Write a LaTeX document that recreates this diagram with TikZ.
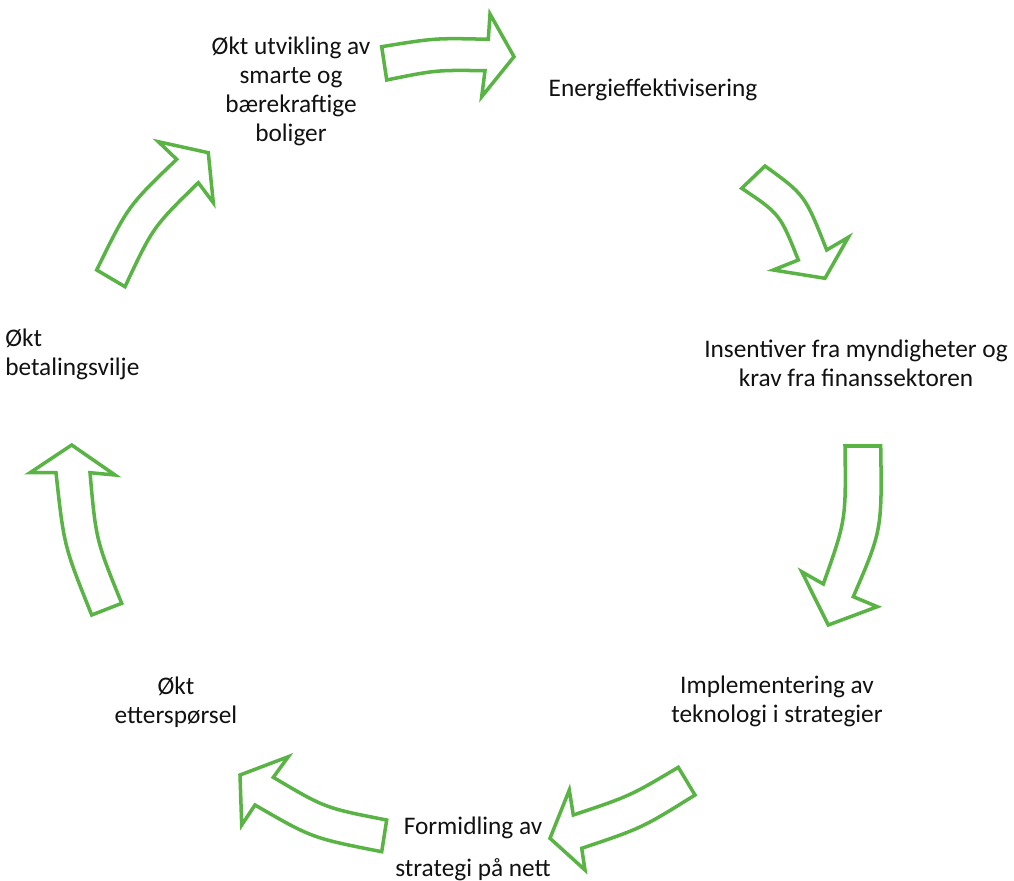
\documentclass[tikz,border=0pt]{standalone}
\usepackage{fontspec}
\setmainfont{Carlito}
\usepackage{tikz}
\usetikzlibrary{positioning}
\definecolor{leaf}{HTML}{5AB445}
\definecolor{ink}{HTML}{111111}

\begin{document}
\begin{tikzpicture}[x=0.025cm,y=-0.025cm,
  stage/.style={align=center,inner sep=0pt,text=ink,font=\fontsize{18}{20.6}\selectfont},
  blockarrow/.style={draw=leaf,line width=2.5pt,line join=miter,fill=white}
]
  \useasboundingbox (0,0) rectangle (1014,881);
  % stages of the cycle
  \node[stage] (utvikling) at (291,91) {Økt utvikling av\\smarte og\\bærekraftige\\boliger};
  \node[stage] (energi) at (653,90) {Energieffektivisering};
  \node[stage] (insentiver) at (856,363) {Insentiver fra myndigheter og\\krav fra finanssektoren};
  \node[stage] (implementering) at (777,701) {Implementering av\\teknologi i strategier};
  \node[stage] (formidling) at (473,849) {Formidling av\\[9pt]strategi på nett};
  \node[stage] (ettersporsel) at (176,702) {Økt\\etterspørsel};
  \node[stage,align=left,anchor=west] (betaling) at (5,354) {Økt\\betalingsvilje};
  % curved block arrows between the stages
  \draw[blockarrow] (381.7,46.7) .. controls (435,38) .. (488.3,39.3) -- (490,14) -- (514,56.7)
    -- (481.7,96.7) -- (485,70.7) .. controls (436,70) .. (386.7,80) -- cycle;
  \draw[blockarrow] (765,166) .. controls (805,195) .. (826.7,250) -- (848.3,237.3) -- (825,278.3)
    -- (773.3,270) -- (798.3,260) .. controls (780,214) .. (741.7,188.3) -- cycle;
  \draw[blockarrow] (880.7,446) .. controls (882,530) .. (853.3,596.7) -- (877.3,606.7) -- (828.3,625)
    -- (801.7,571.7) -- (823.3,584) .. controls (846,520) .. (845,446) -- cycle;
  \draw[blockarrow] (695,795) .. controls (642,828) .. (581.7,848.3) -- (585,870) -- (550,838.3)
    -- (569.3,790) -- (573.3,815) .. controls (630,796) .. (678.3,767.3) -- cycle;
  \draw[blockarrow] (381.7,851.7) .. controls (312,838) .. (255,805) -- (241.7,825) -- (240,775)
    -- (288.3,756.7) -- (273.3,777.3) .. controls (325,808) .. (386.7,820) -- cycle;
  \draw[blockarrow] (121.7,603.3) .. controls (96,540) .. (90,472.7) -- (115,475) -- (71.7,445)
    -- (30,472.7) -- (56,472.7) .. controls (64,546) .. (91.7,615) -- cycle;
  \draw[blockarrow] (96.7,270) .. controls (128,206) .. (176.7,159.3) -- (158.3,141.7) -- (208.3,152.7)
    -- (213.3,202.7) -- (198.3,182.7) .. controls (153,227) .. (125,286.7) -- cycle;
\end{tikzpicture}
\end{document}
